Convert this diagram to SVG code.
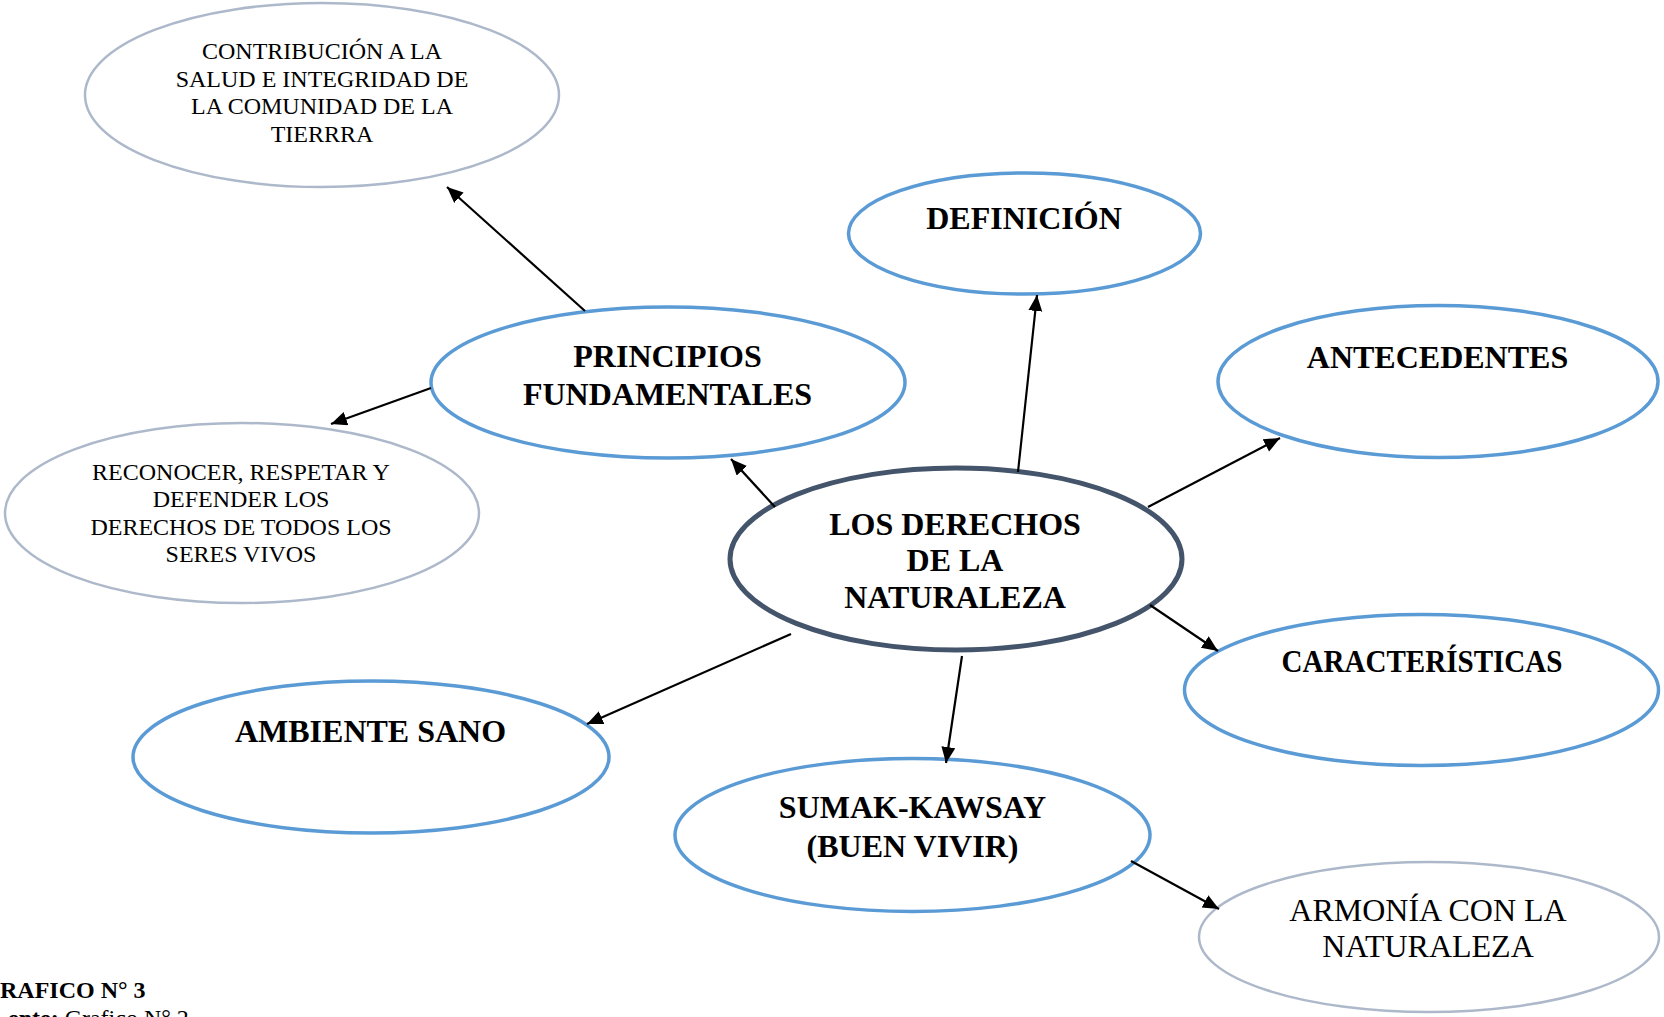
<svg xmlns="http://www.w3.org/2000/svg" width="1664" height="1017" viewBox="0 0 1664 1017">
<style>
.blue{fill:#fff;stroke:#5B9BD5;stroke-width:3.5}
.light{fill:#fff;stroke:#ADB9CA;stroke-width:2.5}
.main{fill:#fff;stroke:#44546A;stroke-width:5}
.b{font-family:"Liberation Serif","Times New Roman",serif;font-weight:bold;font-size:32px;fill:#000;text-anchor:middle}
.r{font-family:"Liberation Serif","Times New Roman",serif;font-size:24px;fill:#000;text-anchor:middle}
.r32{font-family:"Liberation Serif","Times New Roman",serif;font-size:32px;fill:#000;text-anchor:middle}
.cap{font-family:"Liberation Serif","Times New Roman",serif;font-size:24px;fill:#000}
.conn line{stroke:#000;stroke-width:2.2;marker-end:url(#ah)}
</style>
<defs>
<marker id="ah" markerUnits="userSpaceOnUse" markerWidth="18" markerHeight="16" refX="16" refY="7" orient="auto">
<path d="M0,0 L16,7 L0,14 z" fill="#000"/>
</marker>
</defs>
<rect width="1664" height="1017" fill="#fff"/>
<g id="contribucion">
<ellipse class="light" cx="322" cy="95" rx="237" ry="92"/>
<text class="r" x="322" y="59">CONTRIBUCIÓN A LA</text>
<text class="r" x="322" y="86.5">SALUD E INTEGRIDAD DE</text>
<text class="r" x="322" y="114">LA COMUNIDAD DE LA</text>
<text class="r" x="322" y="141.5">TIERRRA</text>
</g>
<g id="reconocer">
<ellipse class="light" cx="242" cy="513" rx="237" ry="90"/>
<text class="r" x="241" y="479.5">RECONOCER, RESPETAR Y</text>
<text class="r" x="241" y="507">DEFENDER LOS</text>
<text class="r" x="241" y="534.5">DERECHOS DE TODOS LOS</text>
<text class="r" x="241" y="562">SERES VIVOS</text>
</g>
<g id="definicion">
<ellipse class="blue" cx="1024.5" cy="233.5" rx="176" ry="60.5"/>
<text class="b" x="1024" y="229">DEFINICIÓN</text>
</g>
<g id="principios">
<ellipse class="blue" cx="668" cy="382.5" rx="237" ry="75.5"/>
<text class="b" x="667.5" y="367">PRINCIPIOS</text>
<text class="b" x="667.5" y="405">FUNDAMENTALES</text>
</g>
<g id="antecedentes">
<ellipse class="blue" cx="1438" cy="381.5" rx="220" ry="76"/>
<text class="b" x="1437.5" y="368">ANTECEDENTES</text>
</g>
<g id="central">
<ellipse class="main" cx="956" cy="559" rx="226" ry="91"/>
<text class="b" x="955" y="534.5">LOS DERECHOS</text>
<text class="b" x="955" y="571">DE LA</text>
<text class="b" x="955" y="607.5">NATURALEZA</text>
</g>
<g id="caracteristicas">
<ellipse class="blue" cx="1421.5" cy="690" rx="237" ry="75.5"/>
<text class="b" x="1422" y="672" textLength="281" lengthAdjust="spacingAndGlyphs">CARACTERÍSTICAS</text>
</g>
<g id="ambiente">
<ellipse class="blue" cx="371" cy="757" rx="238" ry="76"/>
<text class="b" x="370.5" y="742">AMBIENTE SANO</text>
</g>
<g id="sumak">
<ellipse class="blue" cx="912.5" cy="835" rx="237.5" ry="76.5"/>
<text class="b" x="912.5" y="818">SUMAK-KAWSAY</text>
<text class="b" x="912.5" y="856.5">(BUEN VIVIR)</text>
</g>
<g id="armonia">
<ellipse class="light" cx="1429" cy="937" rx="230" ry="75"/>
<text class="r32" x="1428" y="921">ARMONÍA CON LA</text>
<text class="r32" x="1428" y="957">NATURALEZA</text>
</g>
<g id="caption">
<text class="cap" x="0" y="998" font-weight="bold">RAFICO N° 3</text>
<text class="cap" x="8" y="1026"><tspan font-weight="bold">ente:</tspan> Grafico N° 2</text>
</g>
<g id="connectors" class="conn">
<line x1="585" y1="311" x2="447" y2="187"/>
<line x1="431" y1="388" x2="331" y2="424"/>
<line x1="775" y1="507" x2="731" y2="459"/>
<line x1="1018" y1="472" x2="1037" y2="295"/>
<line x1="1148" y1="507" x2="1280" y2="438"/>
<line x1="1150" y1="605" x2="1218" y2="651"/>
<line x1="791" y1="634" x2="587" y2="724"/>
<line x1="962" y1="656" x2="946" y2="763"/>
<line x1="1131" y1="861" x2="1219" y2="909"/>
</g>
</svg>
